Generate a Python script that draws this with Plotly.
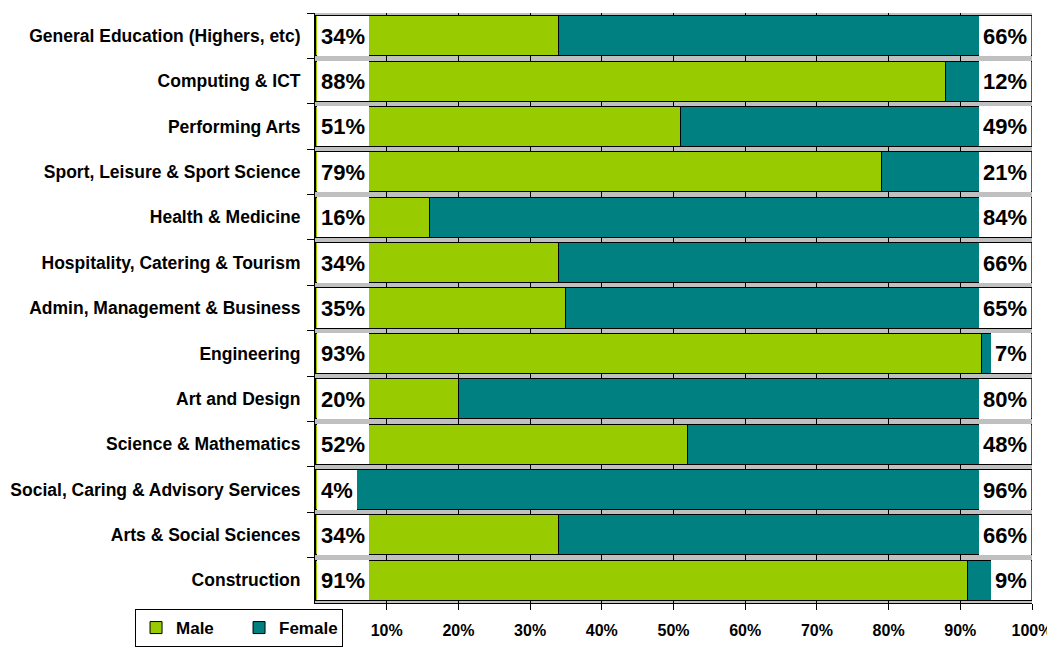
import plotly.graph_objects as go

categories = [
    "General Education (Highers, etc)",
    "Computing & ICT",
    "Performing Arts",
    "Sport, Leisure & Sport Science",
    "Health & Medicine",
    "Hospitality, Catering & Tourism",
    "Admin, Management & Business",
    "Engineering",
    "Art and Design",
    "Science & Mathematics",
    "Social, Caring & Advisory Services",
    "Arts & Social Sciences",
    "Construction",
]
male = [34, 88, 51, 79, 16, 34, 35, 93, 20, 52, 4, 34, 91]
female = [66, 12, 49, 21, 84, 66, 65, 7, 80, 48, 96, 66, 9]
tick_vals = [10, 20, 30, 40, 50, 60, 70, 80, 90, 100]
tick_text = ["10%", "20%", "30%", "40%", "50%", "60%", "70%", "80%", "90%", "100%"]

GREEN = "#99CC00"
TEAL = "#008080"
FONT = "Liberation Sans, Arial, sans-serif"

fig = go.Figure()
fig.add_trace(go.Bar(
    y=categories, x=male, orientation="h", name="Male",
    marker=dict(color=GREEN, line=dict(color="black", width=1)),
    hoverinfo="skip",
))
fig.add_trace(go.Bar(
    y=categories, x=female, orientation="h", name="Female",
    marker=dict(color=TEAL, line=dict(color="black", width=1)),
    hoverinfo="skip",
))

annotations = []
for cat, m, f in zip(categories, male, female):
    common = dict(
        y=cat, xref="x", yref="y", showarrow=False,
        bgcolor="white", borderwidth=0, borderpad=4, height=32,
        font=dict(family=FONT, size=22, color="black", weight="bold"),
    )
    annotations.append(dict(x=0, text=f"{m}%", xanchor="left", xshift=2, **common))
    annotations.append(dict(x=100, text=f"{f}%", xanchor="right", xshift=-1, **common))

# page body has an 8px margin, so margins are offset to place the plot area
fig.update_layout(
    width=1055, height=650,
    margin=dict(l=307, r=31, t=5, b=55, autoexpand=False),
    barmode="stack",
    bargap=0.117,
    paper_bgcolor="white",
    plot_bgcolor="#c0c0c0",
    font=dict(family=FONT, size=16, color="black"),
    annotations=annotations,
    legend=dict(
        orientation="h", x=-0.251, y=-0.0102, xanchor="left", yanchor="top",
        bgcolor="white", bordercolor="black", borderwidth=1,
        font=dict(family=FONT, size=17, color="black", weight="bold"),
        traceorder="normal", itemwidth=30,
        entrywidth=58, entrywidthmode="pixels",
    ),
    xaxis=dict(
        range=[0, 100], tickvals=tick_vals, ticktext=tick_text,
        showgrid=True, gridcolor="black", gridwidth=1,
        showline=True, linecolor="black", linewidth=1,
        ticks="outside", ticklen=6, tickcolor="black",
        ticklabelstandoff=7, zeroline=False, automargin=False,
        tickfont=dict(family=FONT, size=16, color="black", weight="bold"),
        fixedrange=True,
    ),
    yaxis=dict(
        categoryorder="array", categoryarray=categories, autorange="reversed",
        showline=True, linecolor="black", linewidth=1,
        ticks="outside", ticklen=7, tickcolor="black", tickson="boundaries",
        showgrid=False, ticklabelstandoff=10, automargin=False,
        tickfont=dict(family=FONT, size=17.5, color="black", weight="bold"),
        fixedrange=True,
    ),
)

fig.write_html("out.html")
